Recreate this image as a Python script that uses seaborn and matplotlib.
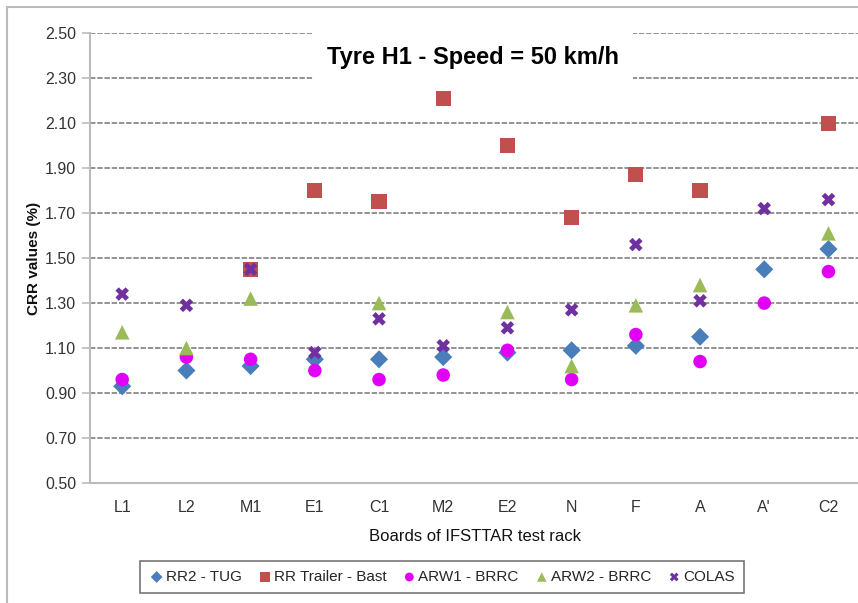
import numpy as np
import pandas as pd
import matplotlib
matplotlib.use("Agg")
import matplotlib.pyplot as plt
import seaborn as sns
from matplotlib.patches import Rectangle
from matplotlib.ticker import FixedLocator

boards = ["L1", "L2", "M1", "E1", "C1", "M2", "E2", "N", "F", "A", "A'", "C2"]
rr2_tug = [0.93, 1.00, 1.02, 1.05, 1.05, 1.06, 1.08, 1.09, 1.11, 1.15, 1.45, 1.54]
rr_trailer_bast = [np.nan, np.nan, 1.45, 1.80, 1.75, 2.21, 2.00, 1.68, 1.87, 1.80, np.nan, 2.10]
arw1_brrc = [0.96, 1.06, 1.05, 1.00, 0.96, 0.98, 1.09, 0.96, 1.16, 1.04, 1.30, 1.44]
arw2_brrc = [1.17, 1.10, 1.32, np.nan, 1.30, np.nan, 1.26, 1.02, 1.29, 1.38, np.nan, 1.61]
colas = [1.34, 1.29, 1.45, 1.08, 1.23, 1.11, 1.19, 1.27, 1.56, 1.31, 1.72, 1.76]

series_names = ["RR2 - TUG", "RR Trailer - Bast", "ARW1 - BRRC", "ARW2 - BRRC", "COLAS"]
series_values = [rr2_tug, rr_trailer_bast, arw1_brrc, arw2_brrc, colas]
colors = ["#4A7EBB", "#C0504D", "#E100F5", "#9BBB59", "#7030A0"]
markers = ["D", "s", "o", "^", "X"]
sizes = [85, 120, 95, 110, 95]

rows = []
for name, vals in zip(series_names, series_values):
    for b, v in zip(boards, vals):
        rows.append({"Board": b, "CRR": v, "Series": name})
df = pd.DataFrame(rows)

sns.set_theme(style="white")
plt.rcParams["font.family"] = ["Liberation Sans", "DejaVu Sans"]

fig = plt.figure(figsize=(8.58, 6.03), dpi=100)
ax = fig.add_axes([0.105, 0.199, 0.898, 0.746])

for name, col, mk, sz in zip(series_names, colors, markers, sizes):
    sub = df[df["Series"] == name]
    sns.scatterplot(data=sub, x="Board", y="CRR", ax=ax, color=col, marker=mk,
                    s=sz, edgecolor="none", label=name, zorder=3)

ax.set_xlim(-0.5, len(boards) - 0.5)
ax.set_ylim(0.5, 2.5)
yt = np.round(np.arange(0.5, 2.51, 0.2), 2)
ax.set_yticks(yt)
ax.set_yticklabels([f"{v:.2f}" for v in yt])
ax.set_xticks(range(len(boards)))
ax.set_xticklabels(boards)
ax.xaxis.set_minor_locator(FixedLocator(np.arange(-0.5, len(boards), 1.0)))
ax.tick_params(axis="x", which="major", length=0, pad=12, labelsize=11.5, labelcolor="#333333")
ax.tick_params(axis="x", which="minor", length=6, width=1.2, color="#BBBBBB", direction="out")
ax.tick_params(axis="y", which="major", length=6, width=1.2, color="#BBBBBB",
               direction="out", labelsize=11.5, labelcolor="#333333", pad=4, left=True)

for v in yt[1:]:
    ax.axhline(v, color="#8A8A8A", linestyle=(0, (3, 1)), linewidth=1.3, zorder=1)

for s in ["top", "right"]:
    ax.spines[s].set_visible(False)
for s in ["left", "bottom"]:
    ax.spines[s].set_color("#BBBBBB")
    ax.spines[s].set_linewidth(1.5)

ax.set_xlabel("Boards of IFSTTAR test rack", fontsize=12, color="#111111", labelpad=10)
ax.set_ylabel("CRR values (%)", fontsize=11, fontweight="bold", color="#111111", labelpad=3)

ax.text(0.497, 0.945, "Tyre H1 - Speed = 50 km/h", transform=ax.transAxes,
        ha="center", va="center", fontsize=17, fontweight="bold", color="#000000",
        bbox=dict(facecolor="white", edgecolor="none", pad=10), zorder=4)

leg = ax.legend(loc="center", bbox_to_anchor=(442 / 858, 1 - 577 / 603),
                bbox_transform=fig.transFigure, ncol=5, frameon=True, fancybox=False,
                fontsize=11, handletextpad=0.1, columnspacing=1.0, borderpad=0.6,
                handlelength=1.0, markerscale=0.65)
leg.get_frame().set_edgecolor("#555555")
leg.get_frame().set_linewidth(1.2)

fig.patches.append(Rectangle((7 / 858, -0.01), 1.1, 1 - 7 / 603 + 0.01,
                             transform=fig.transFigure, fill=False,
                             edgecolor="#BBBBBB", linewidth=1.5, zorder=0))

fig.savefig("out.png", dpi=100)
